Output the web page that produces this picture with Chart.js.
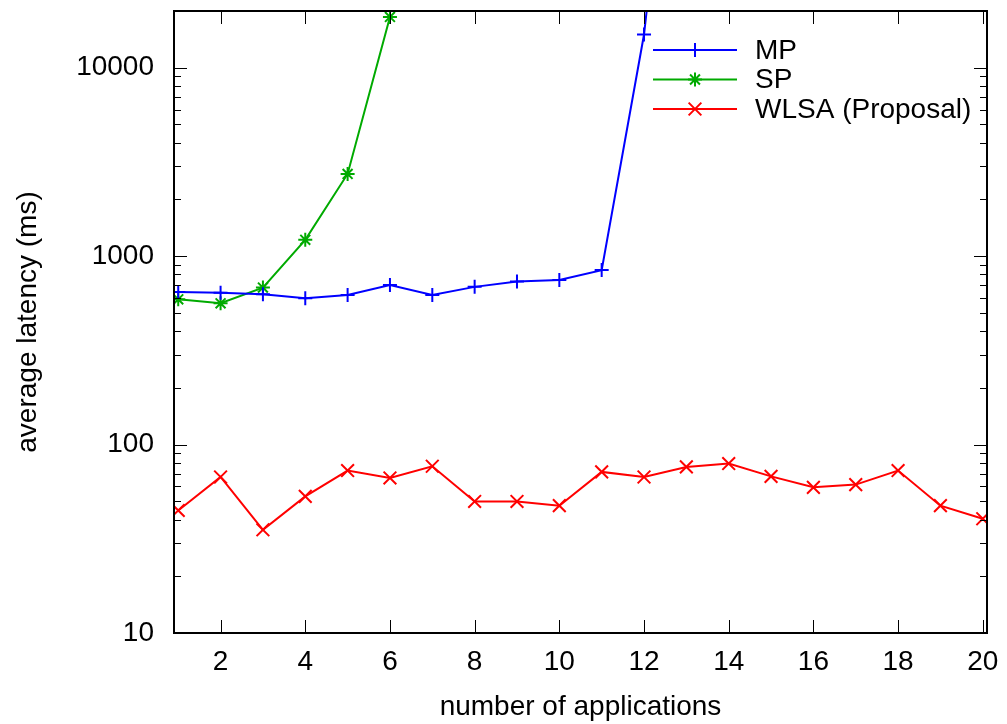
<!DOCTYPE html>
<html>
<head>
<meta charset="utf-8">
<script src="https://cdn.jsdelivr.net/npm/chart.js@4.4.1/dist/chart.umd.min.js"></script>
<style>
  html, body { margin: 0; padding: 0; background: #fff; }
  #caja { width: 1007px; height: 724px; position: relative; }
</style>
</head>
<body>
<div id="caja"><canvas id="grafico"></canvas></div>
<script>
/* datos */
const apps = [1, 2, 3, 4, 5, 6, 7, 8, 9, 10, 11, 12, 13, 14, 15, 16, 17, 18, 19, 20];
const mpLatency = [646, 640, 628, 598, 622, 703, 622, 687, 733, 748, 843, 15000, 1500000];
const spLatency = [590, 562, 681, 1221, 2730, 18600];
const wlsaLatency = [44.7, 67.3, 35.3, 53.1, 72.8, 66.5, 76.7, 49.9, 49.9, 47.4,
                     71.6, 67.3, 76.1, 79.3, 67.8, 59.3, 61.3, 72.8, 47.4, 40.4];
const xTicks = [2, 4, 6, 8, 10, 12, 14, 16, 18, 20];
const yTicks = [10, 100, 1000, 10000];

const fuente = { family: "Liberation Sans", size: 28 };

const puntos = (vals) => vals.map((v, i) => ({ x: apps[i], y: v }));

const series = [
    { label: 'MP', data: puntos(mpLatency), color: '#0000ff', style: 'cross', r: 7 },
    { label: 'SP', data: puntos(spLatency), color: '#00aa00', style: 'star', r: 7 },
    { label: 'WLSA (Proposal)', data: puntos(wlsaLatency), color: '#ff0000', style: 'crossRot', r: 9 }
];

function marcador(ctx, style, r, cx, cy) {
    ctx.beginPath();
    if (style === 'cross' || style === 'star') {
        ctx.moveTo(cx - r, cy); ctx.lineTo(cx + r, cy);
        ctx.moveTo(cx, cy - r); ctx.lineTo(cx, cy + r);
    }
    if (style === 'crossRot' || style === 'star') {
        const d = r * Math.SQRT1_2;
        ctx.moveTo(cx - d, cy - d); ctx.lineTo(cx + d, cy + d);
        ctx.moveTo(cx - d, cy + d); ctx.lineTo(cx + d, cy - d);
    }
    ctx.stroke();
}

/* marco, ticks hacia adentro y leyenda */
const marco = {
    id: 'marco',
    afterDatasetsDraw(chart) {
        const { ctx, chartArea: a, scales: { x, y } } = chart;
        ctx.save();
        ctx.strokeStyle = '#000';
        ctx.lineWidth = 1;
        ctx.beginPath();
        xTicks.forEach(v => {
            const px = Math.round(x.getPixelForValue(v)) + 0.5;
            ctx.moveTo(px, a.bottom); ctx.lineTo(px, a.bottom - 13);
            ctx.moveTo(px, a.top); ctx.lineTo(px, a.top + 13);
        });
        yTicks.forEach(d => {
            for (let m = 1; m <= 9; m++) {
                const v = d * m;
                if (v > y.max) break;
                const len = m === 1 ? 13 : 7;
                const py = Math.round(y.getPixelForValue(v)) + 0.5;
                ctx.moveTo(a.left, py); ctx.lineTo(a.left + len, py);
                ctx.moveTo(a.right, py); ctx.lineTo(a.right - len, py);
            }
        });
        ctx.stroke();
        ctx.lineWidth = 2;
        ctx.strokeRect(a.left, a.top, a.right - a.left, a.bottom - a.top);

        // leyenda
        ctx.font = fuente.size + 'px "' + fuente.family + '"';
        ctx.textBaseline = 'middle';
        ctx.textAlign = 'left';
        series.forEach((s, i) => {
            const ly = a.top + 39 + i * 29.5;
            ctx.strokeStyle = s.color;
            ctx.lineWidth = 2;
            ctx.beginPath();
            ctx.moveTo(a.right - 334, ly); ctx.lineTo(a.right - 250, ly);
            ctx.stroke();
            marcador(ctx, s.style, s.r, a.right - 292, ly);
            ctx.fillStyle = '#000';
            ctx.fillText(s.label, a.right - 232, ly + 1);
        });
        ctx.restore();
    }
};

const grafico = document.getElementById('grafico').getContext('2d');

new Chart(grafico, {
    type: 'line',
    data: {
        datasets: series.map(s => ({
            label: s.label,
            data: s.data,
            borderColor: s.color,
            backgroundColor: s.color,
            borderWidth: 2,
            pointStyle: s.style,
            pointRadius: s.r,
            pointBorderWidth: 2,
            pointBorderColor: s.color,
            fill: false,
            tension: 0
        }))
    },
    options: {
        responsive: true,
        maintainAspectRatio: false,
        animation: false,
        layout: { padding: { top: 11, right: 20, left: 0, bottom: 0 } },
        plugins: {
            legend: { display: false },
            tooltip: { enabled: false }
        },
        scales: {
            x: {
                type: 'linear',
                min: 0.9,
                max: 20.1,
                afterBuildTicks: s => { s.ticks = xTicks.map(v => ({ value: v })); },
                afterFit: s => { s.height = 91; s.paddingLeft = 0; s.paddingRight = 0; },
                grid: { display: false, drawTicks: false },
                border: { display: false },
                ticks: {
                    color: '#000',
                    font: fuente,
                    padding: 12,
                    maxRotation: 0,
                    autoSkip: false
                },
                title: {
                    display: true,
                    text: 'number of applications',
                    color: '#000',
                    font: fuente,
                    padding: { top: 0, bottom: 0 }
                }
            },
            y: {
                type: 'logarithmic',
                min: 10,
                max: 20000,
                afterBuildTicks: s => { s.ticks = yTicks.map(v => ({ value: v })); },
                afterFit: s => { s.width = 174; s.paddingTop = 0; s.paddingBottom = 0; },
                grid: { display: false, drawTicks: false },
                border: { display: false },
                ticks: {
                    color: '#000',
                    font: fuente,
                    padding: 20,
                    callback: v => String(v)
                },
                title: {
                    display: true,
                    text: 'average latency (ms)',
                    color: '#000',
                    font: fuente,
                    padding: { top: 11, bottom: 0 }
                }
            }
        }
    },
    plugins: [marco]
});
</script>
</body>
</html>
